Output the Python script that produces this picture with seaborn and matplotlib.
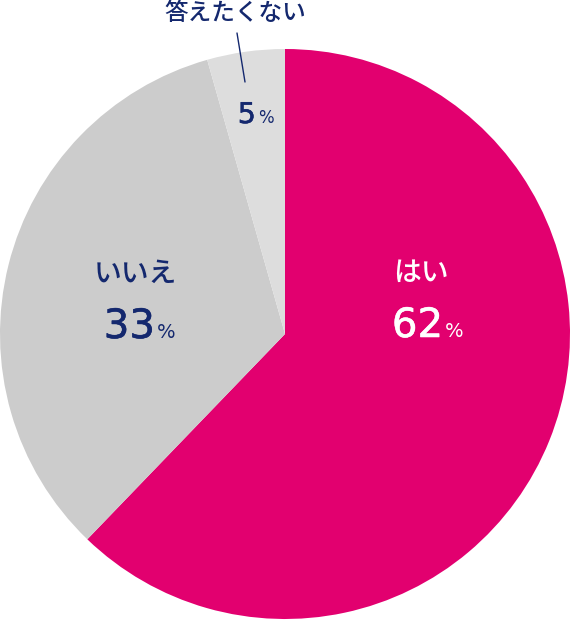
import matplotlib
matplotlib.use('Agg')
import matplotlib.pyplot as plt
import matplotlib.patheffects as pe
import seaborn as sns

sns.set_style("white")
plt.rcParams['font.family'] = ['Noto Sans CJK JP', 'DejaVu Sans']

labels = ["はい", "いいえ", "答えたくない"]
values = [62.2, 33.4, 4.4]          # slice sizes as drawn
pct_text = ["62", "33", "5"]        # rounded labels shown
colors = ["#E2006F", "#CCCCCC", "#DDDDDD"]
navy = "#14286E"
num_font = ['DejaVu Sans']

fig = plt.figure(figsize=(5.7, 6.2), dpi=100)
ax = fig.add_axes([0, 0, 1, 1])
ax.pie(values, colors=colors, startangle=90, counterclock=False,
       center=(285, 286), radius=285, wedgeprops={'linewidth': 0})
ax.set_xlim(0, 570)
ax.set_ylim(0, 620)
ax.set_aspect('equal')
ax.axis('off')


def pct_label(x, y, num, color, size, psize):
    # number right-aligned at x, small % sign just after it on same baseline
    ax.text(x, y, num, color=color, fontsize=size, fontweight='normal',
            family=num_font, ha='right', va='baseline',
            path_effects=[pe.withStroke(linewidth=0.4, foreground=color)])
    ax.text(x + 2, y, "%", color=color, fontsize=psize, fontweight='normal',
            family=num_font, ha='left', va='baseline')


# はい
ax.text(421, 348, labels[0], color="white", fontsize=20, fontweight='medium',
        ha='center', va='center')
pct_label(443, 283, pct_text[0], "white", 29, 14)

# いいえ
ax.text(135, 347, labels[1], color=navy, fontsize=20, fontweight='medium',
        ha='center', va='center')
pct_label(155, 282, pct_text[1], navy, 29, 14)

# 答えたくない
ax.text(235, 607, labels[2], color=navy, fontsize=17, fontweight='medium',
        ha='center', va='center')
ax.plot([237, 245], [587, 538], color=navy, linewidth=1)
pct_label(256, 497, pct_text[2], navy, 20.5, 12)

fig.savefig("out.png", dpi=100, facecolor='white')
plt.close(fig)
